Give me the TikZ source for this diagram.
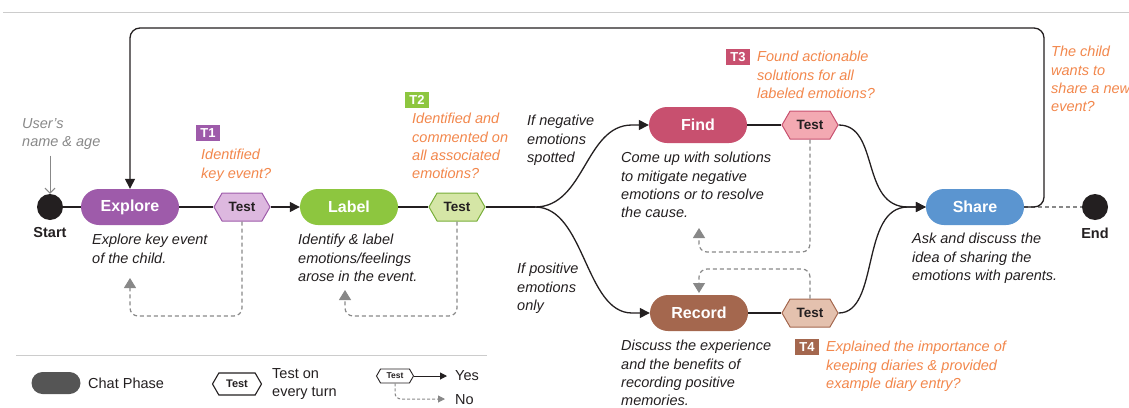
\documentclass[tikz,border=0pt]{standalone}
\usepackage{fontspec}
\setmainfont{Liberation Sans}
\usetikzlibrary{shapes.symbols,shapes.misc,arrows.meta}
\definecolor{cpurple}{HTML}{9E5BAA}
\definecolor{cpurplel}{HTML}{DDB8DF}
\definecolor{cgreen}{HTML}{8DC63F}
\definecolor{cgreenl}{HTML}{D5E6A6}
\definecolor{cgreend}{HTML}{78AE3A}
\definecolor{cpink}{HTML}{C8506F}
\definecolor{cpinkl}{HTML}{F3A9B2}
\definecolor{cbrown}{HTML}{A4674E}
\definecolor{cbrownl}{HTML}{E4C1AE}
\definecolor{cblue}{HTML}{5B95D0}
\definecolor{corange}{HTML}{F2874C}
\definecolor{cdark}{HTML}{231F20}
\definecolor{cgray}{HTML}{888888}
\definecolor{clight}{HTML}{CCCCCC}
\definecolor{clegend}{HTML}{555555}
\tikzset{
  phase/.style={rounded corners=18pt, minimum width=98pt, minimum height=36pt, text=white,
    font=\bfseries\fontsize{16}{18}\selectfont, inner sep=0pt},
  testbox/.style={shape=signal, signal to=east and west, signal pointer angle=120, draw,
    line width=1pt, minimum height=28pt, minimum width=56pt, inner sep=0pt,
    font=\bfseries\fontsize{13.5}{16}\selectfont, text=cdark},
  desc/.style={anchor=north west, align=left, inner sep=0pt,
    font=\itshape\fontsize{14.5}{18.3}\selectfont, text=cdark},
  crit/.style={desc, text=corange},
  badge/.style={text=white, font=\bfseries\fontsize{13}{13}\selectfont, minimum width=24pt,
    minimum height=16pt, inner sep=0pt},
  flow/.style={line width=1.3pt, draw=cdark},
  arr/.style={-{Triangle[length=10pt,width=10pt]}},
  nofb/.style={draw=cgray, line width=1.2pt, dash pattern=on 4pt off 3pt, rounded corners=8pt,
    -{Triangle[length=10pt,width=12pt]}},
  term/.style={circle, fill=cdark, minimum size=26pt, inner sep=0pt},
  termlabel/.style={font=\bfseries\fontsize{14.5}{16}\selectfont, text=cdark, inner sep=0pt},
  legtext/.style={anchor=west, align=left, inner sep=0pt, font=\fontsize{14.5}{17.5}\selectfont, text=cdark}
}
\begin{document}
\begin{tikzpicture}[x=1pt,y=-1pt]
\useasboundingbox (0,0) rectangle (1129,407);
% top rule
\draw[clight, line width=1pt] (3,12) -- (1129,12);

% start
\node[term] (start) at (50,207) {};
\node[termlabel] (startl) at (50,233) {Start};
\node[desc, text=cgray] (user) at (22,118) {User's\\name \& age};
\draw[cgray, line width=1pt, -{Straight Barb[length=5pt,width=10pt]}] (user.south -| start) ++(0,6) coordinate (ua) -- (start.north);

% phases
\node[phase, fill=cpurple] (explore) at (130,207) {Explore};
\node[testbox, fill=cpurplel, draw=cpurple] (t1) at (242,207) {Test};
\node[phase, fill=cgreen] (label) at (349,207) {Label};
\node[testbox, fill=cgreenl, draw=cgreend] (t2) at (457,207) {Test};
\node[phase, fill=cpink] (find) at (698,125) {Find};
\node[testbox, fill=cpinkl, draw=cpink] (t3) at (810,125) {Test};
\node[phase, fill=cbrown] (record) at (699,313) {Record};
\node[testbox, fill=cbrownl, draw=cbrown] (t4) at (810,313) {Test};
\node[phase, fill=cblue] (share) at (975,207) {Share};
\node[term] (endn) at (1095,207) {};
\node[termlabel] (endl) at (1095,233) {End};

% badges and criteria
\node[badge, fill=cpurple] (b1) at (208,133) {T1};
\node[crit] (c1) at (201,149) {Identified\\key event?};
\node[badge, fill=cgreen] (b2) at (417,100) {T2};
\node[crit] (c2) at (412,113) {Identified and\\commented on\\all associated\\emotions?};
\node[badge, fill=cpink] (b3) at (738,57) {T3};
\node[crit] (c3) at (757,51) {Found actionable\\solutions for all\\labeled emotions?};
\node[badge, fill=cbrown] (b4) at (807,347) {T4};
\node[crit] (c4) at (826,341) {Explained the importance of\\keeping diaries \& provided\\example diary entry?};
\node[crit] (c5) at (1051,46) {The child\\wants to\\share a new\\event?};

% descriptions
\node[desc] (d1) at (92,234) {Explore key event\\of the child.};
\node[desc] (d2) at (298,234) {Identify \& label\\emotions/feelings\\arose in the event.};
\node[desc] (d3) at (621,152) {Come up with solutions\\to mitigate negative\\emotions or to resolve\\the cause.};
\node[desc] (d4) at (621,340) {Discuss the experience\\and the benefits of\\recording positive\\memories.};
\node[desc] (d5) at (912,233) {Ask and discuss the\\idea of sharing the\\emotions with parents.};
\node[desc] (neg) at (527,115) {If negative\\emotions\\spotted};
\node[desc] (pos) at (517,263) {If positive\\emotions\\only};

% main flow
\draw[flow] (start.east) -- (explore.west);
\draw[flow] (explore.east) -- (t1.west);
\draw[flow, arr] (t1.east) -- (label.west);
\draw[flow] (label.east) -- (t2.west);
\coordinate (br) at (535,207);
\draw[flow] (t2.east) -- (br);
\draw[flow, arr] (br) .. controls (585,207) and (585,125) .. (632,125) -- (find.west);
\draw[flow, arr] (br) .. controls (585,207) and (585,313) .. (632,313) -- (record.west);
\draw[flow] (find.east) -- (t3.west);
\draw[flow] (record.east) -- (t4.west);
\coordinate (mg) at (908,207);
\draw[flow, arr] (t3.east) .. controls (880,125) and (860,207) .. (mg) -- (share.west);
\draw[flow, arr] (t4.east) .. controls (880,313) and (860,207) .. (mg) -- (share.west);
\draw[cgray, line width=1.2pt, dash pattern=on 4pt off 3pt] (share.east) -- (endn.west);
\draw[flow, rounded corners=10pt, arr] (share.east) -- (1044,207) -- (1044,28) -- (130,28) -- (explore.north);

% failure loops
\draw[nofb] (t1.south) -- (242,316) -- (130,316) -- (130,278);
\draw[nofb] (t2.south) -- (457,316) -- (345,316) -- (345,290);
\draw[nofb] (t3.south) -- (810,252) -- (699,252) -- (699,228);
\draw[nofb] (t4.north) -- (810,269) -- (699,269) -- (699,293);

% legend
\draw[clight, line width=1pt] (16,355) -- (487,355);
\node[fill=clegend, rounded corners=11pt, minimum width=49pt, minimum height=22pt, inner sep=0pt] (lchat) at (56,383) {};
\node[legtext] (lchatt) at (88,383) {Chat Phase};
\node[testbox, fill=white, draw=cdark, line width=1.1pt, minimum width=49pt, minimum height=22pt,
  font=\bfseries\fontsize{11}{12}\selectfont] (ltest) at (237,384) {Test};
\node[legtext] (ltestt) at (272,384) {Test on\\every turn};
\node[testbox, fill=white, draw=cdark, line width=0.9pt, minimum width=37pt, minimum height=14pt,
  font=\bfseries\fontsize{8.5}{9}\selectfont] (lsm) at (395,376) {Test};
\coordinate (lyes) at (447,376);
\coordinate (lno) at (445,399);
\draw[line width=1pt, cdark, -{Triangle[length=7pt,width=7pt]}] (lsm.east) -- (lyes);
\draw[cgray, line width=1pt, dash pattern=on 3pt off 2pt, rounded corners=6pt, -{Triangle[length=7pt,width=7pt]}] (lsm.south) -- (395,399) -- (lno);
\node[legtext] (lyest) at (455,376) {Yes};
\node[legtext] (lnot) at (455,400) {No};
\end{tikzpicture}
\end{document}
